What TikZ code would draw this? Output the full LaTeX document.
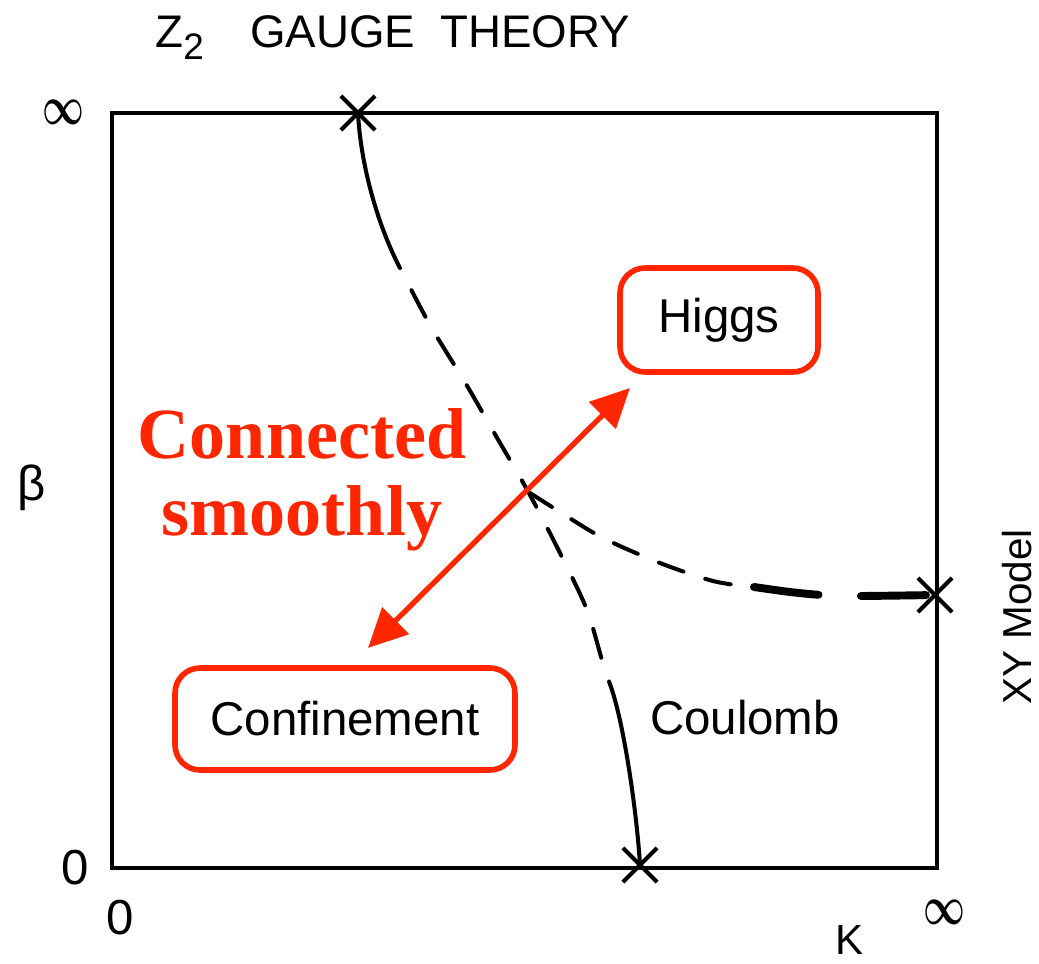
\documentclass[tikz,border=0pt]{standalone}
\usepackage{fontspec}
\setmainfont{Liberation Sans}
\newfontfamily\serifbold{Liberation Serif}
\usetikzlibrary{arrows.meta,shapes.misc}
\definecolor{hred}{RGB}{255,38,0}
\begin{document}
\begin{tikzpicture}[x=0.02cm,y=-0.02cm,
  lbl/.style={inner sep=0pt,font=\fontsize{27}{30}\selectfont},
  axl/.style={inner sep=0pt,font=\fontsize{28}{30}\selectfont},
  ttl/.style={anchor=base west,inner sep=0pt,font=\fontsize{26}{30}\selectfont},
  xmark/.style={cross out,draw,line width=2.4pt,minimum size=0.6cm,inner sep=0pt},
  redbox/.style={draw=hred,line width=3.2pt,rounded corners=0.5cm,inner sep=0pt,font=\fontsize{27}{30}\selectfont},
  redtext/.style={text=hred,inner sep=0pt,font=\serifbold\bfseries\fontsize{41}{45}\selectfont},
  curve/.style={line width=2.3pt,line cap=round},
  dashA/.style={curve,dash pattern=on 0.6cm off 0.5cm,dash phase=0.6cm},
  dashB/.style={curve,dash pattern=on 0.52cm off 0.46cm},
  dashC/.style={line width=4.5pt,line cap=round,dash pattern=on 1.3cm off 0.85cm}]
\useasboundingbox (0,0) rectangle (1039,964);
% frame
\draw[line width=2pt] (112,113) rectangle (937,868);
% curves
\draw[curve] (358,113) .. controls (361,170) and (380,230) .. (400,268);
\draw[dashA] plot[smooth] coordinates {(400,268) (430,325) (466,384) (496,436) (530,495) (562,557) (587,610) (602,660) (612,690)};
\draw[curve] (612,690) .. controls (625,730) and (637,815) .. (640,865);
\draw[dashB] plot[smooth] coordinates {(530,493) (560,512) (603,538) (660,563) (713,581) (752,587)};
\draw[dashC] plot[smooth] coordinates {(754,587) (790,592) (822,595) (858,596) (935,595)};
% markers
\node[xmark] (xt) at (358,113) {};
\node[xmark] (xb) at (640,865) {};
\node[xmark] (xr) at (935,595) {};
% title and axis labels
\node[ttl] (tz) at (155,47) {Z\raisebox{-0.28em}{\fontsize{21}{22}\selectfont 2}};
\node[ttl] (tg) at (250,47) {GAUGE};
\node[ttl] (tt) at (440,47) {THEORY};
\node[inner sep=0pt] (inftl) at (63,112) {\scalebox{1}[1.5]{\fontsize{22}{22}\selectfont\boldmath$\infty$}};
\node[inner sep=0pt] (infbr) at (944,912) {\scalebox{1}[1.5]{\fontsize{22}{22}\selectfont\boldmath$\infty$}};
\node[axl] (zl) at (75,868) {0};
\node[axl] (zb) at (120,918) {0};
\node[inner sep=0pt,font=\fontsize{28}{30}\selectfont] (beta) at (32,488) {β};
\node[inner sep=0pt,font=\fontsize{24}{26}\selectfont] (K) at (850,940) {K};
\node[inner sep=0pt,font=\fontsize{23}{26}\selectfont,rotate=90] (xy) at (1017,617) {XY Model};
% phases
\node[lbl] (coul) at (745,718) {Coulomb};
\node[redbox,minimum width=3.96cm,minimum height=2.08cm] (higgs) at (719,320) {Higgs};
\node[redbox,minimum width=6.8cm,minimum height=2.04cm] (conf) at (345,719) {Confinement};
% red annotation
\node[redtext,anchor=base] (c1) at (302,458) {Connected};
\node[redtext,anchor=base] (c2) at (302,535) {smoothly};
\coordinate (a1) at (368,648);
\coordinate (a2) at (630,388);
\draw[hred,line width=3pt,{Triangle[length=0.78cm,width=0.74cm]}-{Triangle[length=0.78cm,width=0.74cm]}] (a1) -- (a2);
\end{tikzpicture}
\end{document}
